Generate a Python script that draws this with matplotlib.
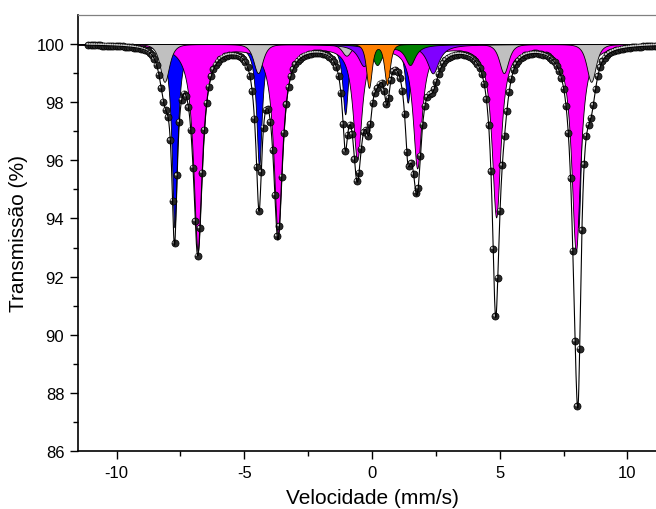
import numpy as np
import matplotlib
matplotlib.use("Agg")
import matplotlib.pyplot as plt
import matplotlib.transforms as mtransforms

plt.rcParams['font.family'] = ['Liberation Sans', 'DejaVu Sans']
plt.rcParams['axes.unicode_minus'] = False

# velocity channels of the spectrum (mm/s)
channels = np.linspace(-11.1, 11.6, 256)

# sub-spectra: line centres (mm/s), depths (%), half widths (mm/s)
blue_pos = [-7.73, -4.42, -1.05, 1.40, 4.83, 8.08]
blue_depth = [6.3, 4.2, 2.4, 2.0, 3.2, 6.3]
blue_hw = 0.13

magenta_pos = [-6.82, -3.68, -0.58, 1.77, 4.86, 7.98]
magenta_depth = [7.1, 6.5, 3.9, 4.2, 5.9, 7.1]
magenta_hw = 0.21

gray_pos = [-8.12, -4.46, -1.00, 1.55, 5.16, 8.58]
gray_depth = [1.3, 1.0, 0.4, 0.35, 1.0, 1.3]
gray_hw = 0.33

purple_pos = [-0.32, 2.38]
purple_depth = [0.75, 1.0]
purple_hw = 0.28

green_pos = [0.20, 1.49]
green_depth = [0.7, 0.7]
green_hw = 0.24

orange_pos = [-0.12, 0.59]
orange_depth = [1.5, 1.4]
orange_hw = 0.2

baseline = 100.0


def lines(v, pos, depth, hw, power=1):
    out = np.zeros_like(v)
    for c, d in zip(pos, depth):
        out += d / (1 + ((v - c) / hw) ** 2) ** power
    return out


v = np.linspace(-11.5, 11.7, 3000)
# drawing order as in the picture: blue, magenta, gray, purple, green, orange
components = [
    (blue_pos, blue_depth, blue_hw, 1, '#0000FF'),
    (magenta_pos, magenta_depth, magenta_hw, 1, '#FF00FF'),
    (gray_pos, gray_depth, gray_hw, 2, '#C0C0C0'),
    (purple_pos, purple_depth, purple_hw, 1, '#8000FF'),
    (green_pos, green_depth, green_hw, 1, '#008000'),
    (orange_pos, orange_depth, orange_hw, 2, '#FF8000'),
]

fig = plt.figure(figsize=(6.56, 5.10), dpi=100)
ax = fig.add_axes([0.1192, 0.1137, 0.8957, 0.855])

total = np.zeros_like(v)
for pos, depth, hw, pw, col in components:
    absorb = lines(v, pos, depth, hw, pw)
    total += absorb
    ax.fill_between(v, baseline, baseline - absorb, facecolor=col,
                    edgecolor='black', linewidth=0.6, zorder=2)

# measured points
meas = baseline - sum(lines(channels, p, d, h, pw) for p, d, h, pw, _ in components)
ax.scatter(channels, meas, s=26, facecolor='#2a2a2a', edgecolor='black',
           linewidth=0.5, zorder=3)
shift = mtransforms.ScaledTranslation(-1 / 100, 1 / 100, fig.dpi_scale_trans)
ax.scatter(channels, meas, s=3, facecolor='#d0d0d0', edgecolor='none',
           zorder=4, transform=ax.transData + shift)

ax.plot(v, baseline - total, color='black', linewidth=0.8, zorder=5)

ax.set_xlim(-11.5, 11.5)
ax.set_ylim(86, 101)
ax.set_xticks([-10, -5, 0, 5, 10])
ax.set_xticks(np.arange(-7.5, 11, 5), minor=True)
ax.set_yticks(np.arange(86, 101, 2))
ax.set_yticks(np.arange(87, 101, 2), minor=True)
ax.tick_params(which='major', direction='out', length=6, width=1, labelsize=12, pad=4)
ax.tick_params(which='minor', direction='out', length=3.5, width=1)
ax.tick_params(top=False, right=False)

for s in ['left', 'bottom']:
    ax.spines[s].set_linewidth(1.2)
ax.spines['top'].set_color('#808080')
ax.spines['top'].set_linewidth(0.9)
ax.spines['right'].set_visible(False)

ax.set_xlabel('Velocidade (mm/s)', fontsize=15, labelpad=6)
ax.set_ylabel('Transmissão (%)', fontsize=15, labelpad=6)

fig.savefig('out.png', dpi=100)
